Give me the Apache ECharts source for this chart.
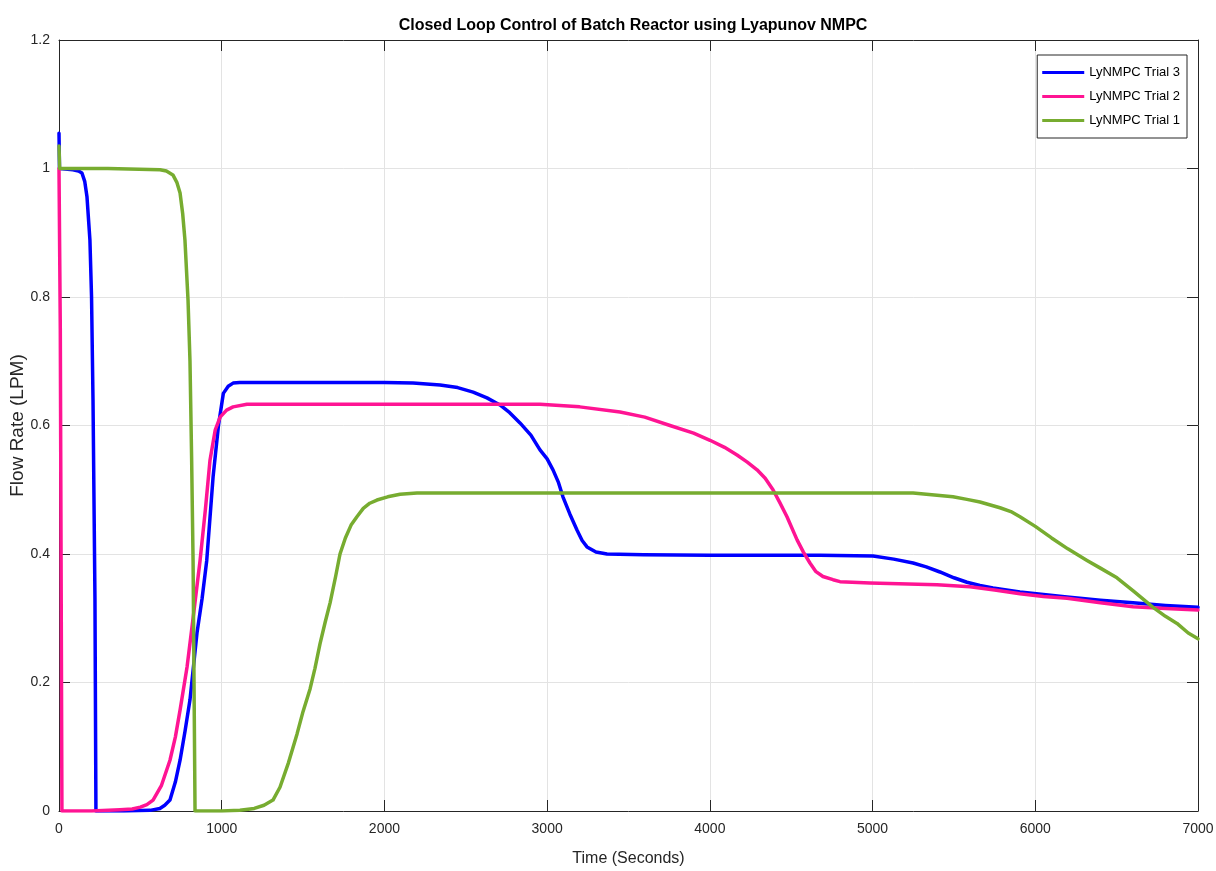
<!DOCTYPE html>
<html>
<head>
<meta charset="utf-8">
<script src="https://cdn.jsdelivr.net/npm/echarts@6/dist/echarts.min.js"></script>
<style>html,body{margin:0;padding:0;background:#fff;}#chart{width:1216px;height:871px;}</style>
</head>
<body>
<div id="chart"></div>
<script>
const titleText = 'Closed Loop Control of Batch Reactor using Lyapunov NMPC';
const xName = 'Time (Seconds)';
const yName = 'Flow Rate (LPM)';
const xTicks = ['0', '1000', '2000', '3000', '4000', '5000', '6000', '7000'];
const yTicks = ['0', '0.2', '0.4', '0.6', '0.8', '1', '1.2'];
const seriesNames = ['LyNMPC Trial 3', 'LyNMPC Trial 2', 'LyNMPC Trial 1'];

const trial3Time = [0, 3, 86, 120, 141, 158, 172, 190, 200, 209, 221, 227, 400, 560, 620, 650, 682, 715, 744, 775, 805, 848, 879, 908, 947, 980, 1010, 1040, 1070, 1110, 1500, 2000, 2176, 2342, 2450, 2545, 2630, 2710, 2770, 2833, 2900, 2956, 3000, 3036, 3070, 3097, 3140, 3184, 3215, 3245, 3300, 3368, 3593, 4000, 4677, 5003, 5130, 5249, 5330, 5414, 5500, 5580, 5660, 5740, 5906, 6050, 6195, 6400, 6601, 6800, 7000];
const trial3Flow = [1.055, 1.0, 0.998, 0.996, 0.993, 0.98, 0.956, 0.889, 0.80, 0.64, 0.33, 0, 0, 0.001, 0.004, 0.009, 0.017, 0.045, 0.079, 0.125, 0.173, 0.277, 0.33, 0.39, 0.52, 0.60, 0.65, 0.661, 0.666, 0.667, 0.667, 0.667, 0.666, 0.663, 0.659, 0.652, 0.643, 0.632, 0.620, 0.604, 0.585, 0.562, 0.548, 0.531, 0.511, 0.489, 0.462, 0.437, 0.421, 0.411, 0.403, 0.400, 0.399, 0.398, 0.398, 0.397, 0.392, 0.386, 0.380, 0.372, 0.363, 0.356, 0.351, 0.347, 0.341, 0.337, 0.333, 0.328, 0.324, 0.320, 0.317];

const trial2Time = [0, 8, 18, 200, 375, 450, 500, 540, 578, 630, 682, 715, 744, 787, 824, 867, 900, 928, 960, 990, 1030, 1070, 1155, 2000, 2956, 3200, 3448, 3600, 3755, 3900, 4001, 4090, 4167, 4230, 4290, 4340, 4388, 4430, 4474, 4536, 4575, 4615, 4650, 4695, 4757, 4800, 4984, 5396, 5599, 5750, 5906, 6050, 6195, 6400, 6601, 6800, 7000];
const trial2Flow = [1.0, 0.75, 0, 0, 0.002, 0.003, 0.006, 0.010, 0.017, 0.040, 0.079, 0.115, 0.157, 0.224, 0.30, 0.39, 0.47, 0.546, 0.593, 0.613, 0.624, 0.629, 0.633, 0.633, 0.633, 0.629, 0.621, 0.613, 0.600, 0.588, 0.577, 0.566, 0.554, 0.543, 0.531, 0.518, 0.50, 0.48, 0.458, 0.422, 0.403, 0.386, 0.373, 0.365, 0.360, 0.357, 0.355, 0.352, 0.349, 0.344, 0.338, 0.334, 0.331, 0.324, 0.318, 0.315, 0.313];

const trial1Time = [0, 4, 300, 621, 660, 700, 725, 744, 760, 774, 793, 805, 815, 824, 836, 1000, 1112, 1200, 1260, 1315, 1358, 1410, 1463, 1500, 1543, 1573, 1604, 1635, 1666, 1700, 1727, 1760, 1795, 1831, 1870, 1910, 1954, 2020, 2096, 2200, 3000, 4000, 5000, 5249, 5380, 5494, 5580, 5660, 5783, 5850, 5906, 6000, 6100, 6200, 6318, 6400, 6502, 6600, 6724, 6800, 6871, 6940, 7000];
const trial1Flow = [1.035, 1.0, 1.0, 0.998, 0.996, 0.99, 0.978, 0.962, 0.93, 0.889, 0.795, 0.70, 0.55, 0.39, 0, 0, 0.001, 0.004, 0.009, 0.017, 0.037, 0.075, 0.12, 0.155, 0.19, 0.222, 0.26, 0.293, 0.324, 0.365, 0.40, 0.425, 0.445, 0.458, 0.471, 0.479, 0.484, 0.489, 0.493, 0.495, 0.495, 0.495, 0.495, 0.495, 0.492, 0.489, 0.485, 0.481, 0.472, 0.466, 0.458, 0.443, 0.425, 0.408, 0.39, 0.378, 0.363, 0.343, 0.317, 0.303, 0.292, 0.277, 0.268];

const colors = ['#0000ff', '#ff1493', '#77ac30'];
const zip = (a, b) => a.map((t, i) => [t, b[i]]);
const seriesData = [zip(trial3Time, trial3Flow), zip(trial2Time, trial2Flow), zip(trial1Time, trial1Flow)];

const font = "'Liberation Sans', Arial, Helvetica, sans-serif";
const axisCol = '#262626';

const chart = echarts.init(document.getElementById('chart'), null, {renderer: 'canvas'});
const baseX = {
  type: 'value', min: 0, max: 7000, interval: 1000,
  axisLine: {show: true, onZero: false, lineStyle: {color: axisCol, width: 1}},
  axisTick: {show: true, inside: true, length: 11, lineStyle: {color: axisCol}},
};
const baseY = {
  type: 'value', min: 0, max: 1.2, interval: 0.2,
  axisLine: {show: true, onZero: false, lineStyle: {color: axisCol, width: 1}},
  axisTick: {show: true, inside: true, length: 11, lineStyle: {color: axisCol}},
};
chart.setOption({
  animation: false,
  backgroundColor: '#ffffff',
  title: {
    text: titleText, left: 628, top: 13, textAlign: 'center',
    textStyle: {fontFamily: font, fontSize: 16, fontWeight: 'bold', color: '#000'}
  },
  legend: {
    orient: 'vertical', right: 29, top: 55,
    data: seriesNames, icon: 'rect', itemWidth: 42, itemHeight: 3, itemGap: 11,
    padding: [11, 7, 11, 5],
    backgroundColor: '#fff', borderColor: axisCol, borderWidth: 1, borderRadius: 0,
    textStyle: {fontFamily: font, fontSize: 13, color: '#000'}
  },
  grid: {left: 59, right: 18, top: 40, bottom: 60, containLabel: false, outerBoundsMode: 'none'},
  xAxis: [
    Object.assign({}, baseX, {
      position: 'bottom', name: xName, nameLocation: 'middle', nameGap: 40, nameMoveOverlap: false,
      nameTextStyle: {fontFamily: font, fontSize: 16, color: '#262626'},
      axisLabel: {show: true, margin: 11, fontFamily: font, fontSize: 14, color: '#262626',
        formatter: (v) => xTicks[Math.round(v / 1000)]},
      splitLine: {show: true, lineStyle: {color: '#e3e3e3', width: 1}}
    }),
    Object.assign({}, baseX, {position: 'top', axisLabel: {show: false}, splitLine: {show: false}})
  ],
  yAxis: [
    Object.assign({}, baseY, {
      position: 'left', name: yName, nameLocation: 'middle', nameGap: 32, nameMoveOverlap: false,
      nameTextStyle: {fontFamily: font, fontSize: 19, color: '#262626'},
      axisLabel: {show: true, margin: 9, fontFamily: font, fontSize: 14, color: '#262626',
        formatter: (v) => yTicks[Math.round(v / 0.2)]},
      splitLine: {show: true, lineStyle: {color: '#e3e3e3', width: 1}}
    }),
    Object.assign({}, baseY, {position: 'right', axisLabel: {show: false}, splitLine: {show: false}})
  ],
  series: seriesNames.map((name, i) => ({
    name: name, type: 'line', xAxisIndex: 0, yAxisIndex: 0,
    data: seriesData[i], showSymbol: false, symbol: 'none', smooth: false,
    lineStyle: {color: colors[i], width: 3.5, join: 'round', cap: 'round'}, itemStyle: {color: colors[i]}
  }))
});
</script>
</body>
</html>
